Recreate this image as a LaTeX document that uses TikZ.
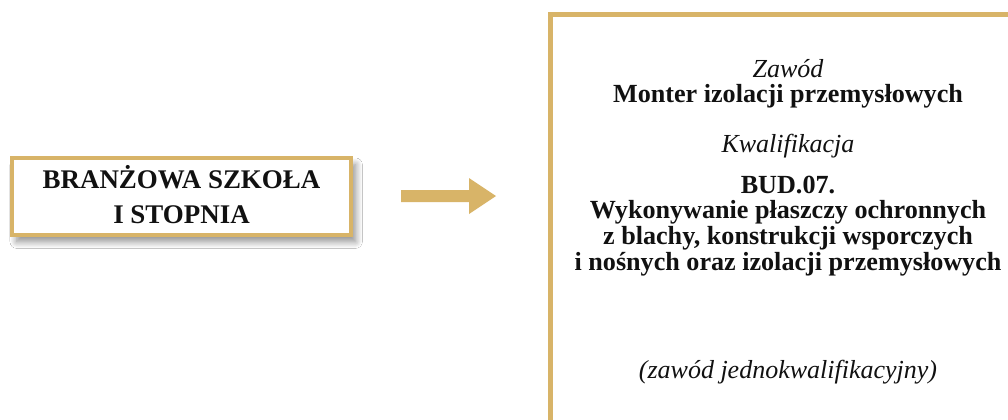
\documentclass[tikz,border=0pt]{standalone}
\usepackage{fontspec}
\setmainfont{Liberation Serif}
\usetikzlibrary{shadows.blur}
\definecolor{gold}{HTML}{D8B468}
\definecolor{ink}{HTML}{111111}
\tikzset{
  x=0.75pt, y=-0.75pt,
  goldframe/.style={draw=gold, line width=3pt},
  linebold/.style={anchor=base, inner sep=0pt, text=ink, font=\fontsize{19.6pt}{22pt}\selectfont\bfseries},
  leftbold/.style={anchor=base, inner sep=0pt, text=ink, font=\fontsize{20.2pt}{22pt}\selectfont\bfseries},
  lineital/.style={anchor=base, inner sep=0pt, text=ink, font=\fontsize{19.5pt}{22pt}\selectfont\itshape},
}
\begin{document}
\begin{tikzpicture}
\clip (0,0) rectangle (1008,419);
\fill[white] (0,0) rectangle (1008,419);
% left box
\path[fill=white, goldframe, blur shadow={shadow xshift=3.5pt, shadow yshift=-5pt, shadow opacity=45, shadow blur steps=12, shadow blur radius=5pt}] (12,158) rectangle (351,235);
\node[leftbold] (l1) at (181.5,188) {BRANŻOWA SZKOŁA};
\node[leftbold] (l2) at (181.5,223) {I STOPNIA};
% arrow
\fill[gold] (401,190) -- (469,190) -- (469,178) -- (496,196) -- (469,214) -- (469,202) -- (401,202) -- cycle;
% right box
\draw[draw=gold, line width=3.75pt] (550.5,430) -- (550.5,14.5) -- (1020,14.5);
\node[lineital] (r1) at (788,77) {Zawód};
\node[linebold] (r2) at (788,102.5) {Monter izolacji przemysłowych};
\node[lineital] (r3) at (788,152) {Kwalifikacja};
\node[linebold] (r4) at (788,193) {BUD.07.};
\node[linebold] (r5) at (788,218) {Wykonywanie płaszczy ochronnych};
\node[linebold] (r6) at (788,244) {z blachy, konstrukcji wsporczych};
\node[linebold] (r7) at (788,270) {i nośnych oraz izolacji przemysłowych};
\node[lineital] (r8) at (788,378) {(zawód jednokwalifikacyjny)};
\end{tikzpicture}
\end{document}
